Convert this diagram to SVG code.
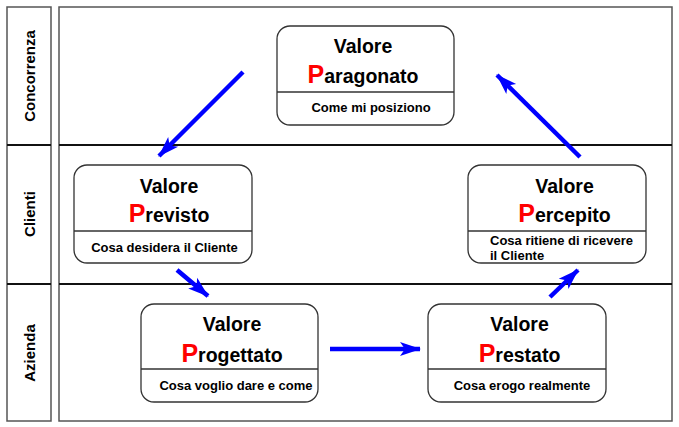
<svg xmlns="http://www.w3.org/2000/svg" width="679" height="427" viewBox="0 0 679 427">
<style>
text{font-family:"Liberation Sans",Arial,sans-serif;font-weight:bold;fill:#000}
.t{font-size:19.5px;text-anchor:middle}
.p{font-size:25px;fill:#ff0000}
.s{font-size:13px;text-anchor:middle}
.sl{font-size:13px}
.lane{font-size:15px;text-anchor:middle}
.box{fill:#fff;stroke:#333;stroke-width:1.3}
.div{stroke:#333;stroke-width:1.3}
.frame{fill:none;stroke:#555;stroke-width:1.5}
.sep{stroke:#111;stroke-width:2.2}
.arr{stroke:#0000ff;stroke-width:4.5;fill:none;marker-end:url(#ah)}
</style>
<defs>
<marker id="ah" markerUnits="userSpaceOnUse" viewBox="-22 -8 24 16" refX="0" refY="0" markerWidth="24" markerHeight="16" orient="auto">
<path d="M1,0 L-20,-7 L-15,0 L-20,7 Z" fill="#0000ff"/>
</marker>
</defs>
<rect width="679" height="427" fill="#fff"/>
<g id="lanes">
<rect class="frame" x="7" y="7" width="44" height="414"/>
<rect class="frame" x="59" y="7" width="613" height="414"/>
<line class="sep" x1="7" y1="145" x2="51" y2="145"/>
<line class="sep" x1="7" y1="284" x2="51" y2="284"/>
<line class="sep" x1="59" y1="145" x2="672" y2="145"/>
<line class="sep" x1="59" y1="284" x2="672" y2="284"/>
<text class="lane" transform="translate(34.5,76) rotate(-90)">Concorrenza</text>
<text class="lane" transform="translate(34.5,214) rotate(-90)">Clienti</text>
<text class="lane" transform="translate(34.5,353) rotate(-90)">Azienda</text>
</g>
<g id="connectors">
<line class="arr" x1="243" y1="72" x2="159" y2="156"/>
<line class="arr" x1="177" y1="270" x2="208" y2="296"/>
<line class="arr" x1="330" y1="349" x2="420" y2="349"/>
<line class="arr" x1="550" y1="297" x2="578" y2="270"/>
<line class="arr" x1="580" y1="157" x2="497" y2="75"/>
</g>
<g id="paragonato">
<rect class="box" x="277" y="26" width="177" height="99" rx="13"/>
<line class="div" x1="277" y1="92" x2="454" y2="92"/>
<text class="t" x="363" y="53">Valore</text>
<text class="t" x="363" y="83"><tspan class="p">P</tspan>aragonato</text>
<text class="s" x="371" y="112">Come mi posiziono</text>
</g>
<g id="previsto">
<rect class="box" x="74" y="165" width="178" height="98" rx="13"/>
<line class="div" x1="74" y1="231" x2="252" y2="231"/>
<text class="t" x="169" y="193">Valore</text>
<text class="t" x="169" y="222"><tspan class="p">P</tspan>revisto</text>
<text class="s" x="164.5" y="252">Cosa desidera il Cliente</text>
</g>
<g id="percepito">
<rect class="box" x="468" y="165" width="178" height="98" rx="13"/>
<line class="div" x1="468" y1="231" x2="646" y2="231"/>
<text class="t" x="564.5" y="193">Valore</text>
<text class="t" x="564.5" y="222"><tspan class="p">P</tspan>ercepito</text>
<text class="sl" x="490" y="245">Cosa ritiene di ricevere</text>
<text class="sl" x="490" y="260">il Cliente</text>
</g>
<g id="progettato">
<rect class="box" x="141" y="304" width="177" height="98" rx="13"/>
<line class="div" x1="141" y1="369" x2="318" y2="369"/>
<text class="t" x="232" y="331">Valore</text>
<text class="t" x="232" y="362"><tspan class="p">P</tspan>rogettato</text>
<text class="s" x="236" y="390">Cosa voglio dare e come</text>
</g>
<g id="prestato">
<rect class="box" x="428" y="304" width="178" height="98" rx="13"/>
<line class="div" x1="428" y1="369" x2="606" y2="369"/>
<text class="t" x="519.5" y="331">Valore</text>
<text class="t" x="519.5" y="362"><tspan class="p">P</tspan>restato</text>
<text class="s" x="522" y="390">Cosa erogo realmente</text>
</g>
</svg>
